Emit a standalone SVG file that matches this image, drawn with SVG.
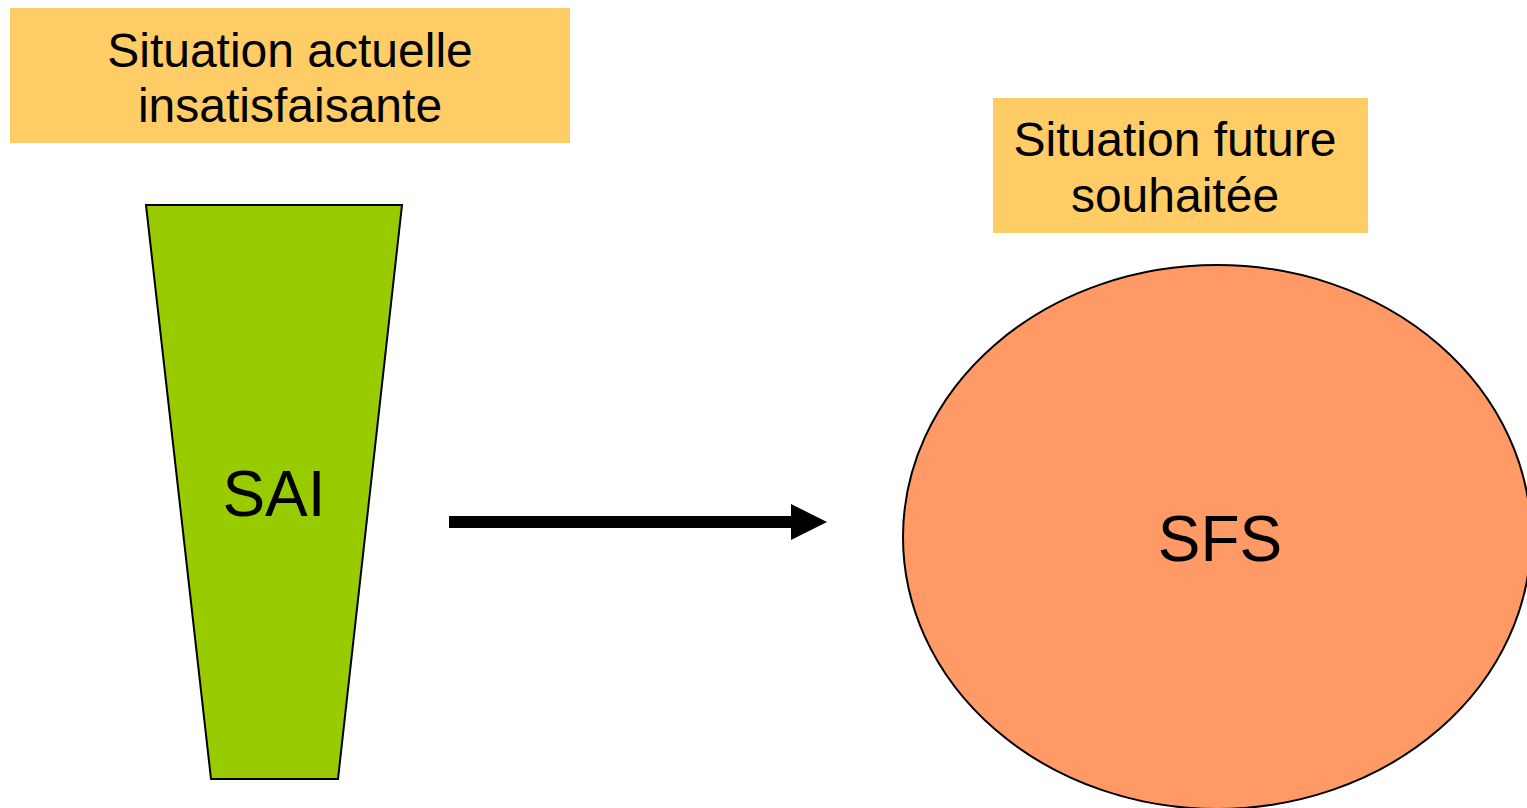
<svg xmlns="http://www.w3.org/2000/svg" width="1527" height="808" viewBox="0 0 1527 808">
<style>
.lbl{fill:#FFCC66}
.t{font-family:"Liberation Sans",Arial,sans-serif;fill:#000;text-anchor:middle}
.s{stroke:#000;stroke-width:2}
</style>
<rect width="1527" height="808" fill="#fff"/>
<g id="label-actuelle">
<rect class="lbl" x="10" y="8" width="560" height="135"/>
<text class="t" x="290" y="67" font-size="48">Situation actuelle</text>
<text class="t" x="290" y="122" font-size="48">insatisfaisante</text>
</g>
<g id="label-future">
<rect class="lbl" x="993" y="98" width="375" height="135"/>
<text class="t" x="1175" y="156" font-size="48">Situation future</text>
<text class="t" x="1175" y="212" font-size="48">souhaitée</text>
</g>
<g id="sai">
<polygon class="s" points="146,205 402,205 338,779 211,779" fill="#99CC00"/>
<text class="t" x="274" y="516" font-size="64">SAI</text>
</g>
<g id="sfs">
<ellipse class="s" cx="1217" cy="537" rx="314" ry="272" fill="#FF9966"/>
<text class="t" x="1220" y="561" font-size="64">SFS</text>
</g>
<g id="connectors">
<rect x="449" y="516" width="343" height="12" fill="#000"/>
<polygon points="791,504 827,522 791,540" fill="#000"/>
</g>
</svg>
